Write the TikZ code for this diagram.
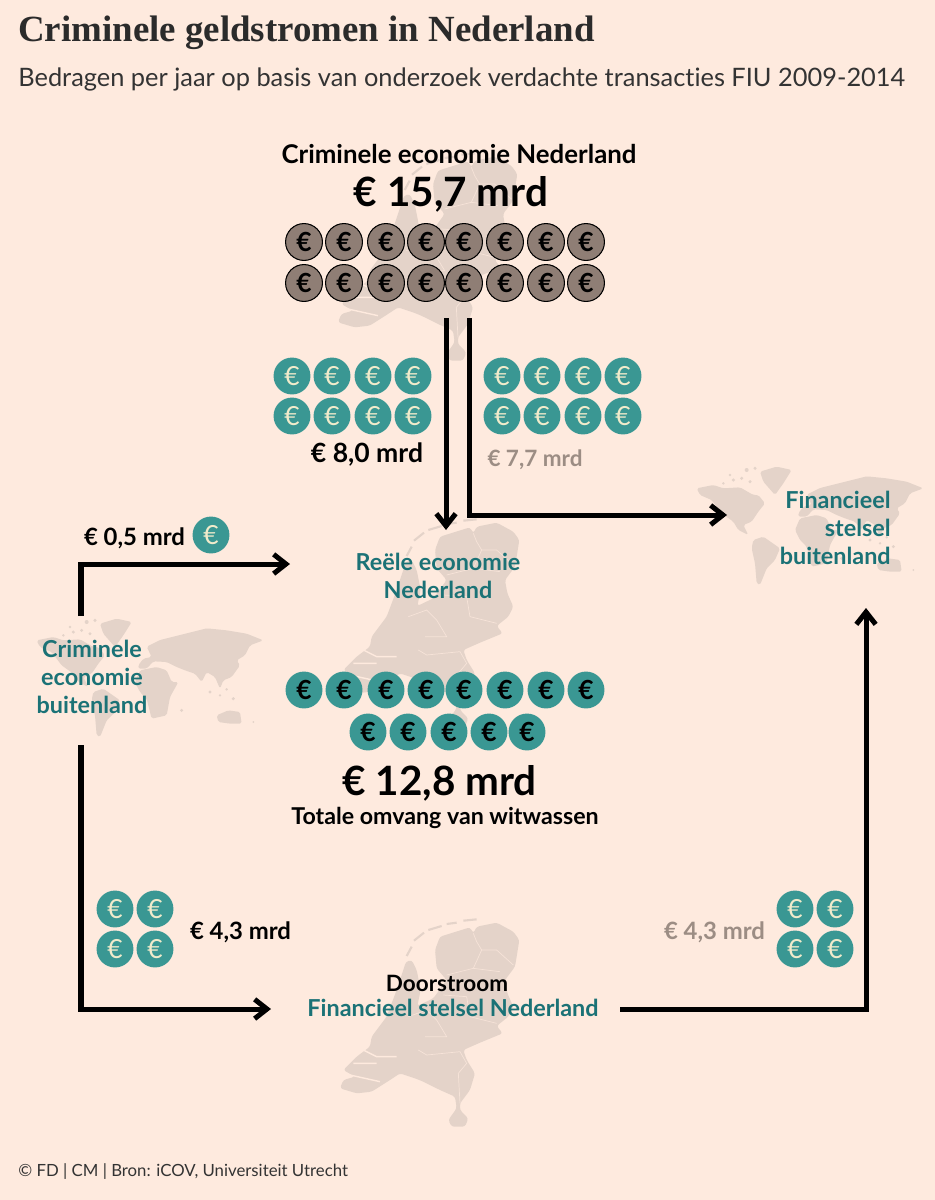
\documentclass[tikz,border=0pt]{standalone}
\usepackage{fontspec}
\setmainfont[Ligatures=CommonOff]{Lato}
\newfontfamily\titlefont{Liberation Serif}
\usepackage{xcolor}
\usetikzlibrary{arrows.meta}
\definecolor{bgpeach}{HTML}{FEEADE}
\definecolor{mapbrown}{HTML}{E4D3C9}
\definecolor{coinbrown}{HTML}{8F7E75}
\definecolor{cointeal}{HTML}{3A9793}
\definecolor{coineuro}{HTML}{F1EBCB}
\definecolor{labelteal}{HTML}{1B7276}
\definecolor{labelgrey}{HTML}{9C8D84}
\tikzset{
  flow/.style={line width=2.85pt, -{Straight Barb[length=7pt,width=11pt]}},
  coinbase/.style={circle, inner sep=0pt, minimum size=21pt, font=\bfseries\fontsize{15}{15}\selectfont},
  browncoin/.style={coinbase, fill=coinbrown, draw=black, line width=0.6pt, text=black},
  tealcoin/.style={coinbase, fill=cointeal, text=coineuro, font=\fontsize{15}{15}\selectfont},
  darkcoin/.style={coinbase, fill=cointeal, text=black},
  heading/.style={font=\bfseries\fontsize{14.7}{16}\selectfont},
  bigsum/.style={font=\bfseries\fontsize{23}{24}\selectfont},
  amount/.style={font=\bfseries\fontsize{13.6}{15}\selectfont},
  place/.style={text=labelteal, align=center, font=\bfseries\fontsize{13.3}{15.9}\selectfont},
  nlmap/.pic={
    % vasteland
    \fill[mapbrown, rounded corners=1.5pt] (590,68) -- (640,95) -- (658,120) -- (650,170) -- (645,200) -- (615,240) -- (622,280) -- (640,320) -- (625,350) -- (590,378) -- (608,400) -- (540,428) -- (490,450) -- (500,480) -- (525,520) -- (510,570) -- (480,610) -- (480,630) -- (505,655) -- (495,680) -- (455,680) -- (445,660) -- (470,625) -- (465,590) -- (420,570) -- (370,545) -- (345,535) -- (300,520) -- (270,540) -- (215,575) -- (170,580) -- (120,565) -- (130,540) -- (165,530) -- (130,510) -- (150,490) -- (170,470) -- (210,440) -- (215,410) -- (260,350) -- (290,270) -- (318,185) -- (335,180) -- (350,210) -- (362,270) -- (352,318) -- (400,295) -- (440,240) -- (410,205) -- (405,150) -- (420,110) -- (510,82) -- (520,100) -- (530,80) -- cycle;
    % waddeneilanden
    \draw[mapbrown, line width=1.2pt] (320,168) -- (335,140) (342,122) -- (372,98) (385,90) -- (425,78) (440,72) -- (470,68) (490,62) -- (530,58);
    % provinciegrenzen
    \draw[bgpeach!70!mapbrown, line width=0.4pt] (520,100) -- (530,125) -- (545,150) -- (590,150) -- (640,195) (520,205) -- (545,150) (440,225) -- (520,205) -- (600,215) (430,285) -- (500,290) -- (510,350) -- (590,370) (325,350) -- (380,330) -- (410,360) -- (440,410) -- (375,410) (355,450) -- (380,465) -- (480,455) -- (500,490) -- (475,520) -- (480,610);
    \draw[bgpeach, line width=0.8pt] (190,450) -- (230,470) -- (290,470) (160,490) -- (230,490) (150,525) -- (240,545);
  },
  worldmap/.pic={
    % Noord-Amerika
    \fill[mapbrown, rounded corners=1pt] (50,115) -- (100,105) -- (130,115) -- (180,112) -- (220,135) -- (235,135) -- (255,160) -- (235,185) -- (215,215) -- (190,225) -- (205,255) -- (175,240) -- (160,215) -- (125,190) -- (95,150) -- (60,135) -- cycle;
    % Groenland
    \fill[mapbrown, rounded corners=1pt] (240,65) -- (290,50) -- (335,60) -- (310,100) -- (285,135) -- (250,95) -- cycle;
    % Zuid-Amerika
    \fill[mapbrown, rounded corners=1pt] (220,270) -- (250,260) -- (300,295) -- (285,330) -- (260,355) -- (240,405) -- (230,400) -- (225,340) -- (215,295) -- cycle;
    % Afrika
    \fill[mapbrown, rounded corners=1pt] (345,240) -- (360,205) -- (410,195) -- (440,205) -- (455,240) -- (475,240) -- (450,285) -- (440,340) -- (395,350) -- (380,290) -- (360,270) -- cycle;
    % Azie en Europa
    \fill[mapbrown, rounded corners=1pt] (355,190) -- (370,170) -- (395,165) -- (380,134) -- (420,114) -- (500,94) -- (560,79) -- (620,85) -- (680,95) -- (730,115) -- (690,130) -- (675,160) -- (650,175) -- (660,190) -- (635,225) -- (610,235) -- (600,260) -- (585,225) -- (560,210) -- (545,240) -- (525,215) -- (495,205) -- (470,195) -- (440,180) -- (400,178) -- (380,200) -- (355,200) -- cycle;
    % Australie
    \fill[mapbrown, rounded corners=1pt] (590,340) -- (625,325) -- (660,330) -- (665,365) -- (630,365) -- (595,360) -- cycle;
    % eilanden
    \fill[mapbrown] (130,100) circle (4) (160,90) circle (5) (200,60) circle (6) (225,55) circle (5) (150,75) circle (4) (185,85) circle (5) (210,95) circle (5) (485,325) circle (5) (570,270) circle (5) (600,280) circle (4) (640,290) circle (5) (620,262) circle (4) (700,360) circle (3);
  }
}
\begin{document}
\begin{tikzpicture}[x=0.02cm, y=-0.02cm]
  \useasboundingbox (0,0) rectangle (935,1200);
  \fill[bgpeach] (0,0) rectangle (935,1200);

  % kaarten
  \pic[scale=1/3] at (298,134) {nlmap};
  \pic[scale=1/3] at (300,500) {nlmap};
  \pic[scale=1/3] at (300,900) {nlmap};
  \pic[scale=1/3] at (20,602) {worldmap};
  \pic[scale=1/3] at (680,450) {worldmap};

  % kop
  \node[anchor=west, inner sep=0pt, text=black!83, font=\titlefont\bfseries\fontsize{21}{24}\selectfont] (title) at (18,33) {Criminele geldstromen in Nederland};
  \node[anchor=west, inner sep=0pt, text=black!80, font=\fontsize{14.45}{17}\selectfont] (subtitle) at (18,79) {Bedragen per jaar op basis van onderzoek verdachte transacties FIU 2009-2014};
  \node[anchor=west, inner sep=0pt, text=black!80, font=\fontsize{9.55}{11}\selectfont] (source) at (18,1172) {© FD | CM | Bron: iCOV, Universiteit Utrecht};

  % criminele economie
  \node[heading] (crimnl) at (459,154) {Criminele economie Nederland};
  \node[bigsum] (sumtop) at (451,194) {€ 15,7 mrd};
  \foreach \x [count=\i] in {304,344,386,426,464,505,546,586} {
    \node[browncoin] (tc\i) at (\x,242) {€};
    \node[browncoin] (bc\i) at (\x,283) {€};
  }

  % bedragen bij de pijlen
  \foreach \x [count=\i] in {292,332,373,413} {
    \node[tealcoin] (la\i) at (\x,376) {€};
    \node[tealcoin] (lb\i) at (\x,416) {€};
  }
  \foreach \x [count=\i] in {502,542,583,623} {
    \node[tealcoin] (ra\i) at (\x,376) {€};
    \node[tealcoin] (rb\i) at (\x,416) {€};
  }
  \node[amount, font=\bfseries\fontsize{15.1}{17}\selectfont] (sumleft) at (367,455) {€ 8,0 mrd};
  \node[amount, font=\bfseries\fontsize{12.8}{15}\selectfont, text=labelgrey] (sumright) at (535,460) {€ 7,7 mrd};
  \node[amount] (sumhalf) at (134.5,538) {€ 0,5 mrd};
  \node[tealcoin] (halfcoin) at (211,535) {€};

  % plaatsen
  \node[place] (reel) at (438,576) {Reële economie\\Nederland};
  \node[place] (crimbuit) at (92,677) {Criminele\\economie\\buitenland};
  \node[place, align=right, anchor=east, inner xsep=0pt] (finbuit) at (891,528) {Financieel\\stelsel\hspace*{4pt}\\buitenland};

  % witwassen
  \foreach \x [count=\i] in {304,344,386,426,464,505,546,586} {
    \node[darkcoin] (wa\i) at (\x,690) {€};
  }
  \foreach \x [count=\i] in {368,408,449,489,527} {
    \node[darkcoin] (wb\i) at (\x,732) {€};
  }
  \node[bigsum] (sumwit) at (439.5,783) {€ 12,8 mrd};
  \node[heading, font=\bfseries\fontsize{13.2}{15}\selectfont] (wit) at (445,818) {Totale omvang van witwassen};

  % doorstroom
  \foreach \x [count=\i] in {115,155} {
    \node[tealcoin] (da\i) at (\x,909) {€};
    \node[tealcoin] (db\i) at (\x,949) {€};
  }
  \foreach \x [count=\i] in {795,835} {
    \node[tealcoin] (ea\i) at (\x,909) {€};
    \node[tealcoin] (eb\i) at (\x,949) {€};
  }
  \node[amount] (sumdoor) at (240.5,932) {€ 4,3 mrd};
  \node[amount, text=labelgrey] (sumdoorr) at (714.5,932) {€ 4,3 mrd};
  \node[heading, font=\bfseries\fontsize{12.8}{15}\selectfont] (door) at (447,983) {Doorstroom};
  \node[place] (finnl) at (453,1008) {Financieel stelsel Nederland};

  % pijlen
  \coordinate (outdown) at (446,318);
  \coordinate (indown) at (446,530);
  \coordinate (outright) at (469,318);
  \coordinate (inright) at (727,515);
  \coordinate (outhalf) at (81,616);
  \coordinate (inhalf) at (290,564);
  \coordinate (outdoor) at (81,745);
  \coordinate (indoor) at (271,1009);
  \coordinate (outfin) at (620,1009);
  \coordinate (infin) at (866,608);
  \draw[flow] (outdown) -- (indown);
  \draw[flow] (outright) |- (inright);
  \draw[flow] (outhalf) |- (inhalf);
  \draw[flow] (outdoor) |- (indoor);
  \draw[flow] (outfin) -| (infin);
\end{tikzpicture}
\end{document}
